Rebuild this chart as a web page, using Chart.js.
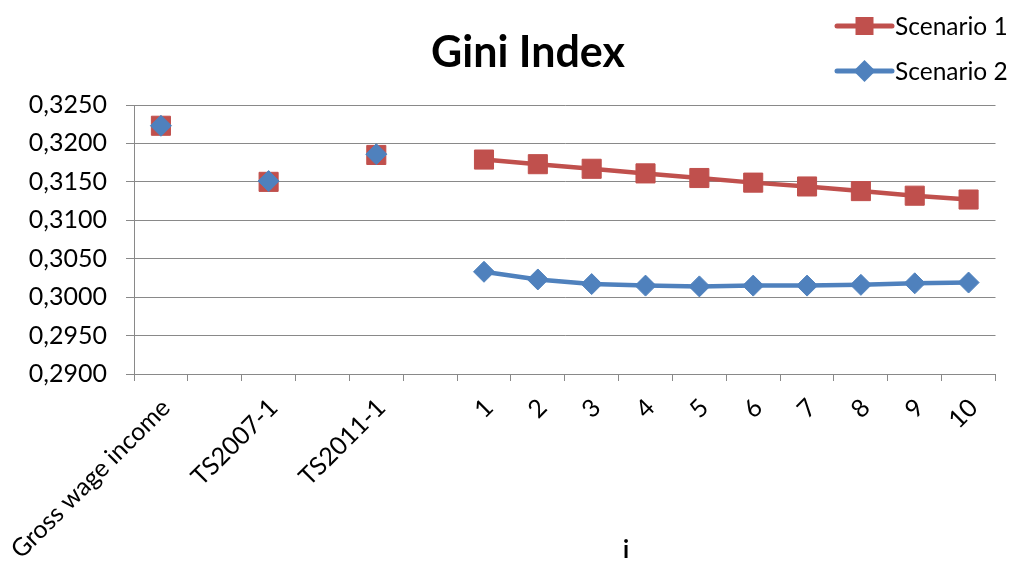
<!DOCTYPE html>
<html>
<head>
<meta charset="utf-8">
<script src="https://cdn.jsdelivr.net/npm/chart.js@4/dist/chart.umd.min.js"></script>
<style>
  html, body { margin: 0; padding: 0; background: #fff; }
  #wrap { width: 1010px; height: 561px; position: relative; }
</style>
</head>
<body>
<div id="wrap"><canvas id="gini"></canvas></div>
<script>
// Categories: three reference incomes, then scenario steps i = 1..10.
// Blank slots separate the reference points so no line joins them.
const categories = ['Gross wage income', '', 'TS2007-1', '', 'TS2011-1', '',
  '1', '2', '3', '4', '5', '6', '7', '8', '9', '10'];

const scenario1 = [0.3223, null, 0.3150, null, 0.3185, null,
  0.3179, 0.3173, 0.3167, 0.3161, 0.3155, 0.3149, 0.3144, 0.3138, 0.3132, 0.3127];

const scenario2 = [0.3223, null, 0.3151, null, 0.3186, null,
  0.3033, 0.3023, 0.3017, 0.3015, 0.3014, 0.3015, 0.3015, 0.3016, 0.3018, 0.3019];

const seriesNames = ['Scenario 1', 'Scenario 2'];

// Y axis range and step
const yMin = 0.2900;
const yMax = 0.3250;
const yStep = 0.0050;

const RED = '#C0504D';
const BLUE = '#4F81BD';
const GRID = '#898989';
const FONT = 'Lato, "Open Sans", sans-serif';

// Title, axis title and legend drawn onto the canvas
const decorations = {
  id: 'decorations',
  afterDraw(chart) {
    const ctx = chart.ctx;
    const w = chart.width;
    ctx.save();
    ctx.fillStyle = '#000';

    // Title
    ctx.font = 'bold 43px ' + FONT;
    ctx.textAlign = 'center';
    ctx.textBaseline = 'alphabetic';
    ctx.fillText('Gini Index', 528, 67);

    // X axis title
    ctx.font = 'bold 24px ' + FONT;
    ctx.fillText('i', 626, 558);

    // Legend
    const rows = [
      { name: seriesNames[0], color: RED, style: 'rect', y: 26, base: 35 },
      { name: seriesNames[1], color: BLUE, style: 'diamond', y: 71, base: 80 }
    ];
    const x0 = w - 173, x1 = w - 118, xm = (x0 + x1) / 2;
    rows.forEach(r => {
      ctx.strokeStyle = r.color;
      ctx.lineWidth = 5;
      ctx.lineCap = 'round';
      ctx.beginPath();
      ctx.moveTo(x0, r.y);
      ctx.lineTo(x1, r.y);
      ctx.stroke();
      ctx.fillStyle = r.color;
      ctx.beginPath();
      if (r.style === 'rect') {
        ctx.rect(xm - 9, r.y - 9, 18, 18);
      } else {
        ctx.moveTo(xm, r.y - 11);
        ctx.lineTo(xm + 11, r.y);
        ctx.lineTo(xm, r.y + 11);
        ctx.lineTo(xm - 11, r.y);
        ctx.closePath();
      }
      ctx.fill();
      ctx.fillStyle = '#000';
      ctx.font = '24.5px ' + FONT;
      ctx.textAlign = 'left';
      ctx.fillText(r.name, x1 + 3, r.base);
    });
    ctx.restore();
  }
};

new Chart(document.getElementById('gini'), {
  type: 'line',
  data: {
    labels: categories,
    datasets: [
      {
        label: seriesNames[0],
        data: scenario1,
        borderColor: RED,
        backgroundColor: RED,
        borderWidth: 4.5,
        pointStyle: 'rect',
        pointRadius: 13.5,
        pointHoverRadius: 13.5,
        pointBorderWidth: 1,
        pointBorderColor: RED,
        pointBackgroundColor: RED,
        spanGaps: false,
        tension: 0,
        order: 2
      },
      {
        label: seriesNames[1],
        data: scenario2,
        borderColor: BLUE,
        backgroundColor: BLUE,
        borderWidth: 4.5,
        pointStyle: 'rectRot',
        pointRadius: 10.5,
        pointHoverRadius: 10.5,
        pointBorderWidth: 1,
        pointBorderColor: BLUE,
        pointBackgroundColor: BLUE,
        spanGaps: false,
        tension: 0,
        order: 1
      }
    ]
  },
  options: {
    responsive: true,
    maintainAspectRatio: false,
    animation: false,
    devicePixelRatio: 1,
    layout: { padding: { top: 105, right: 13, left: 0, bottom: 0 } },
    plugins: {
      legend: { display: false },
      title: { display: false },
      tooltip: { enabled: false }
    },
    scales: {
      x: {
        type: 'category',
        offset: true,
        afterFit(scale) {
          scale.height = 187;
          // rotated labels may hang past the plot edge; keep the plot fixed
          scale.paddingLeft = 0;
          scale.paddingRight = 0;
        },
        grid: {
          drawOnChartArea: false,
          drawTicks: true,
          tickLength: 7,
          color: GRID,
          offset: true
        },
        border: { color: GRID, width: 1 },
        ticks: {
          autoSkip: false,
          maxRotation: 45,
          minRotation: 45,
          padding: 12,
          labelOffset: 5,
          color: '#000',
          font: { family: FONT, size: 25 }
        }
      },
      y: {
        min: yMin,
        max: yMax,
        afterFit(scale) { scale.width = 134; },
        grid: {
          color: GRID,
          drawTicks: true,
          tickLength: 8
        },
        border: { color: GRID, width: 1 },
        ticks: {
          stepSize: yStep,
          padding: 19,
          color: '#000',
          font: { family: FONT, size: 25 },
          callback: v => Number(v).toFixed(4).replace('.', ',')
        }
      }
    }
  },
  plugins: [decorations]
});
</script>
</body>
</html>
